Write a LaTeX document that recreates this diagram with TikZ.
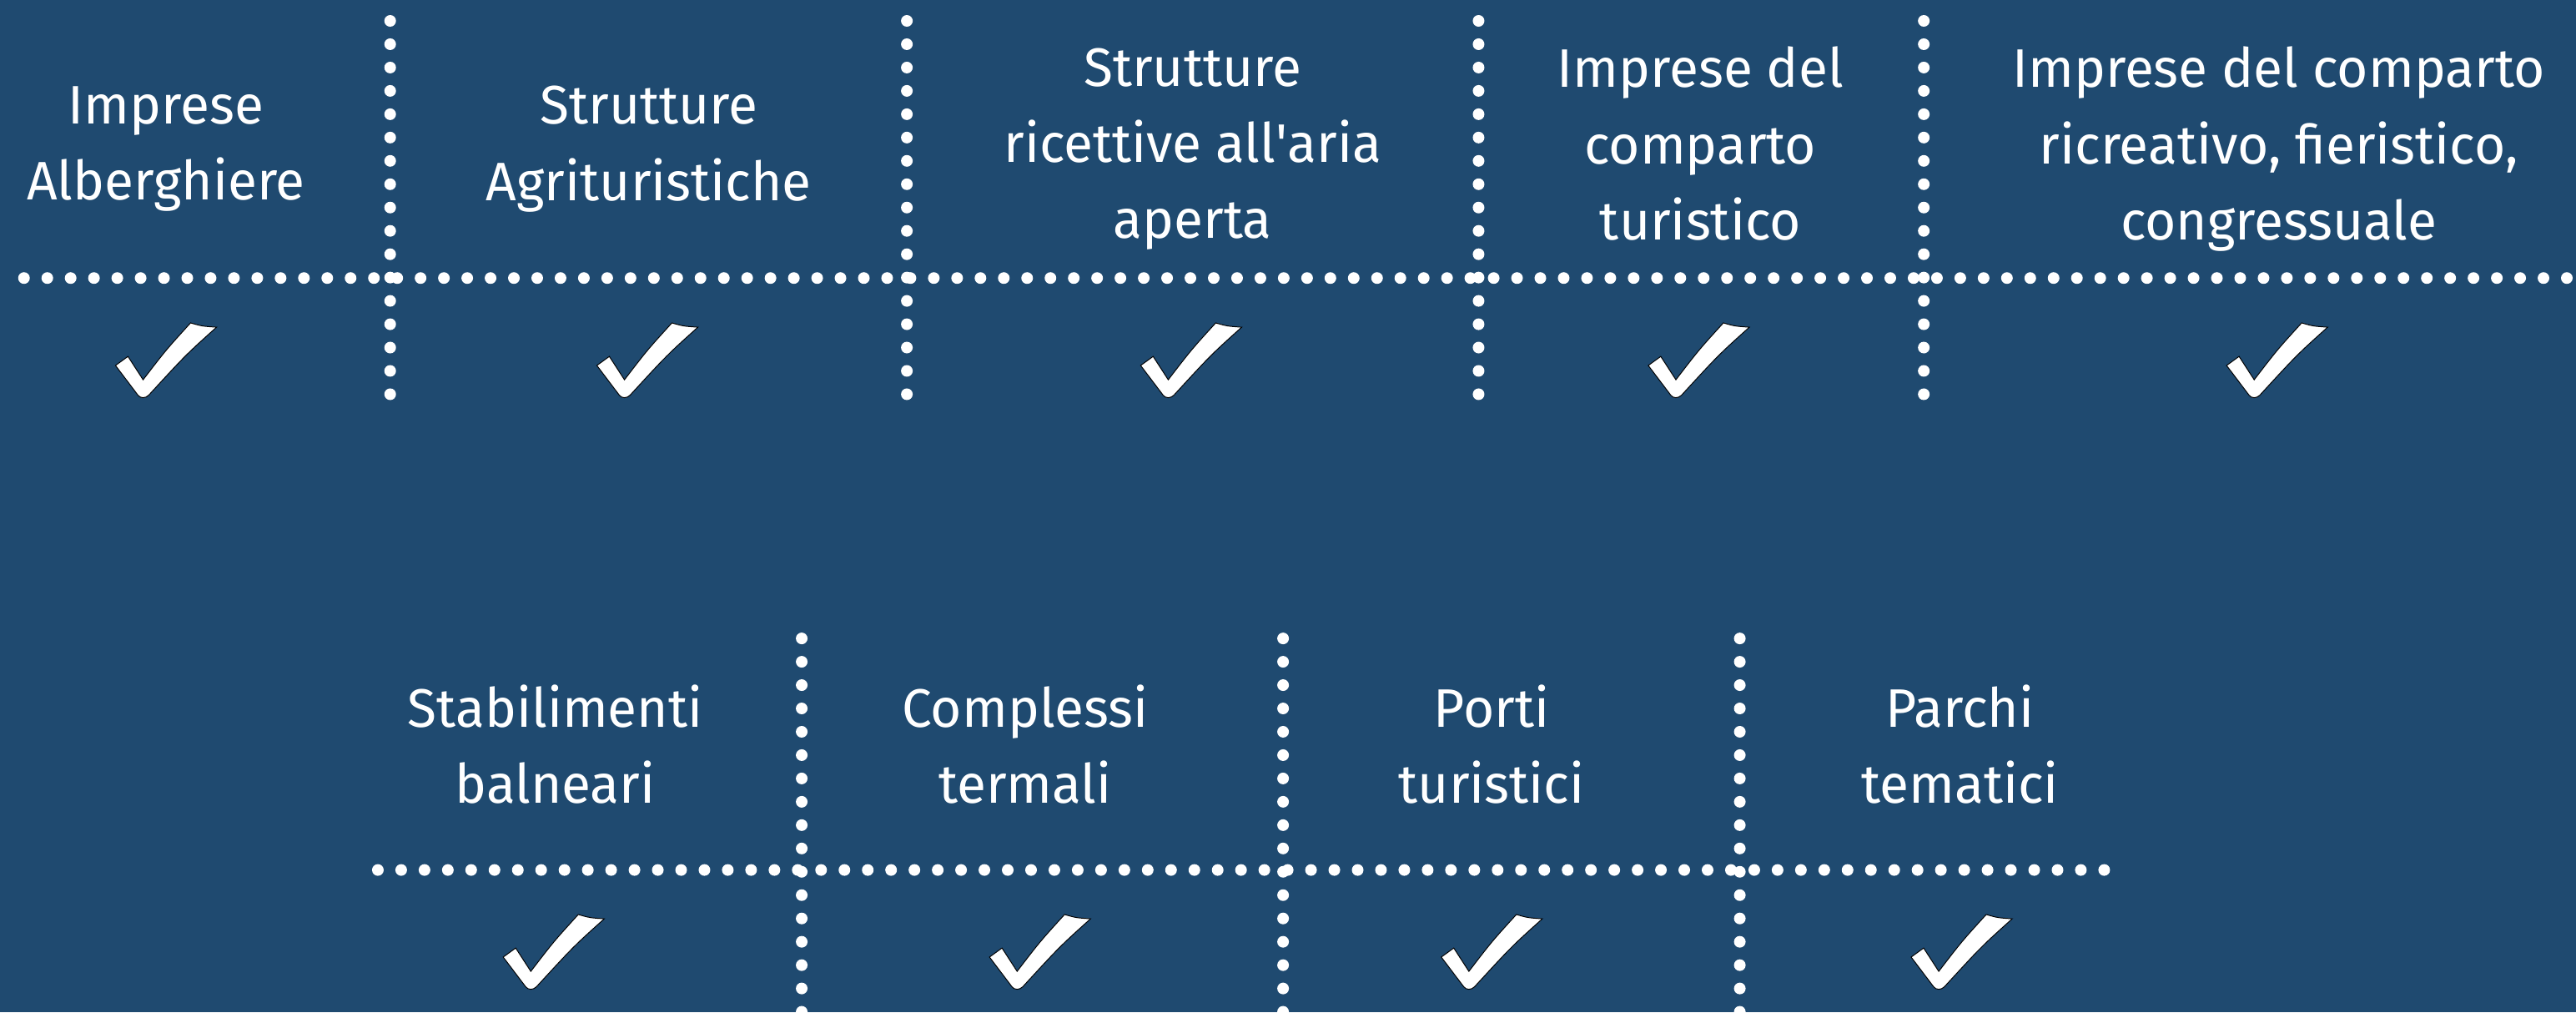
\documentclass[tikz,border=0pt]{standalone}
\usepackage{fontspec}
\setmainfont{Fira Sans}[FakeStretch=0.985]
\definecolor{bgblue}{RGB}{31,74,112}
\tikzstyle{heading}=[text=white,align=center,inner sep=0pt,font=\fontsize{33}{46.4}\selectfont,
    execute at begin node=\strut,execute at end node=\strut]
\tikzstyle{dotline}=[white,line width=7.1pt,line cap=round,dash pattern=on 0pt off 14.2pt]
\tikzstyle{tickmark}=[fill=white,draw=black,line width=0.5pt]
\tikzset{tick/.pic={
    \path[tickmark] (-30.7,3.4) -- (-23.1,-2.1) -- (-13.9,12.1)
        .. controls (0,-6) .. (15,-22.5) .. controls (22,-20.5) .. (30.8,-19.9)
        .. controls (12,-3) .. (-10.5,21.5) .. controls (-12.5,23.5) and (-15.5,23.5) .. (-17,21.5) -- cycle;
}}

\begin{document}
\begin{tikzpicture}[x=1pt,y=-1pt]
    \useasboundingbox[fill=bgblue] (0,0) rectangle (1568,616);
    % upper row
    \node[heading] (alberghi) at (101,94.2) {Imprese\\Alberghiere};
    \node[heading] (agriturismi) at (395,94.2) {Strutture\\Agrituristiche};
    \node[heading] (ariaaperta) at (726,94.2) {Strutture\\ricettive all\textquotesingle aria\\aperta};
    \node[heading] (turistico) at (1035,94.2) {Imprese del\\comparto\\turistico};
    \node[heading] (ricreativo) at (1387,94.2) {Imprese del comparto\\ricreativo, fieristico,\\congressuale};
    \draw[dotline] (14.6,169.2) -- (1562.4,169.2);
    \foreach \x in {237.5,552,900,1171} {
        \draw[dotline] (\x,12.7) -- (\x,239.9);
    }
    \foreach \x in {101,394,725,1034,1386} {
        \pic at (\x,219) {tick};
    }
    % lower row
    \node[heading] (balneari) at (338,459.7) {Stabilimenti\\balneari};
    \node[heading] (termali) at (624,459.7) {Complessi\\termali};
    \node[heading] (porti) at (908,459.7) {Porti\\turistici};
    \node[heading] (parchi) at (1193,459.7) {Parchi\\tematici};
    \draw[dotline] (230,529.4) -- (1283,529.4);
    \foreach \x in {488,781,1059} {
        \draw[dotline] (\x,388.5) -- (\x,615.7);
    }
    \foreach \x in {337,633,908,1194} {
        \pic at (\x,579) {tick};
    }
\end{tikzpicture}
\end{document}
